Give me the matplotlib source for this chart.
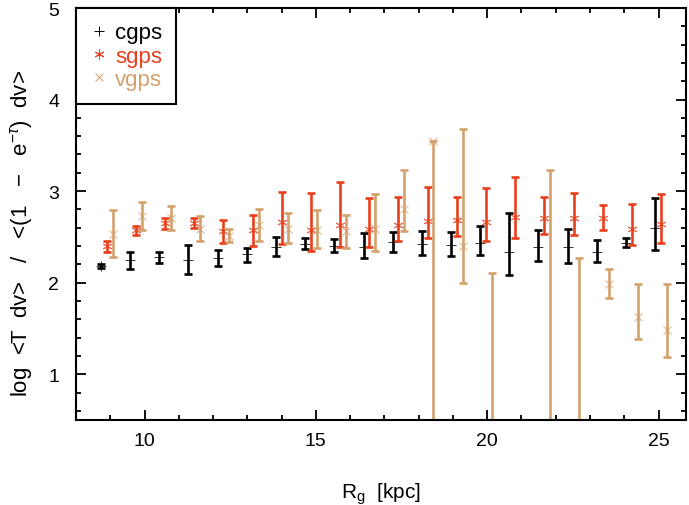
"""log <T dv>/<(1-e^-tau) dv> vs galactocentric radius for the three surveys."""

import numpy as np
import matplotlib
matplotlib.use("Agg")
import matplotlib.pyplot as plt
from matplotlib.lines import Line2D
from matplotlib.ticker import MultipleLocator

plt.rcParams["font.family"] = ["Liberation Sans", "DejaVu Sans"]
plt.rcParams["mathtext.fontset"] = "custom"
plt.rcParams["mathtext.rm"] = "Liberation Sans"
plt.rcParams["mathtext.it"] = "Liberation Sans:italic"

# bin centres (kpc)
r_bins = [8.73, 9.58, 10.43, 11.28, 12.13, 12.99, 13.84, 14.69, 15.54, 16.39,
          17.24, 18.09, 18.94, 19.79, 20.64, 21.49, 22.35, 23.20, 24.05, 24.90]

# cgps: value, lower, upper
cgps_val = [2.18, 2.25, 2.28, 2.25, 2.27, 2.31, 2.39, 2.42, 2.40, 2.39,
            2.44, 2.42, 2.415, 2.43, 2.34, 2.39, 2.39, 2.34, 2.43, 2.60]
cgps_lo = [2.16, 2.15, 2.22, 2.10, 2.18, 2.23, 2.29, 2.37, 2.33, 2.27,
           2.34, 2.30, 2.29, 2.30, 2.08, 2.24, 2.22, 2.23, 2.39, 2.36]
cgps_hi = [2.20, 2.34, 2.33, 2.41, 2.36, 2.38, 2.50, 2.49, 2.48, 2.54,
           2.55, 2.56, 2.55, 2.62, 2.76, 2.58, 2.59, 2.47, 2.49, 2.93]

# sgps
sgps_val = [2.40, 2.57, 2.65, 2.65, 2.56, 2.57, 2.66, 2.57, 2.63, 2.59,
            2.63, 2.67, 2.68, 2.66, 2.72, 2.71, 2.71, 2.71, 2.59, 2.64]
sgps_lo = [2.34, 2.52, 2.59, 2.60, 2.43, 2.40, 2.42, 2.35, 2.39, 2.39,
           2.45, 2.49, 2.51, 2.45, 2.49, 2.53, 2.52, 2.58, 2.41, 2.43]
sgps_hi = [2.46, 2.62, 2.71, 2.71, 2.68, 2.74, 2.99, 2.98, 3.10, 2.92,
           2.94, 3.04, 2.94, 3.03, 3.15, 2.94, 2.98, 2.85, 2.86, 2.97]

# vgps (nan = no point in that bin)
vgps_val = [2.53, 2.73, 2.71, 2.59, 2.51, 2.63, 2.59, 2.57, 2.56, 2.59,
            2.81, 3.55, 2.40, 0.30, np.nan, 0.30, 0.30, 1.99, 1.62, 1.48]
vgps_lo = [2.28, 2.58, 2.57, 2.45, 2.44, 2.45, 2.43, 2.38, 2.38, 2.35,
           2.56, -0.50, 2.00, -0.50, np.nan, -0.50, -0.50, 1.83, 1.39, 1.19]
vgps_hi = [2.79, 2.88, 2.84, 2.73, 2.59, 2.81, 2.76, 2.79, 2.74, 2.97,
           3.23, 3.55, 3.68, 2.11, np.nan, 3.23, 2.27, 2.15, 1.99, 1.99]

RED = "#e8401c"
TAN = "#d4a06c"


def main() -> None:
    fig = plt.figure(figsize=(6.89, 5.06), dpi=100)
    ax = fig.add_axes([0.1103, 0.168, 0.8853, 0.8142])

    r = np.array(r_bins)
    series = [
        ("cgps", cgps_val, cgps_lo, cgps_hi, "black", "+", 7.5, 0.0),
        ("sgps", sgps_val, sgps_lo, sgps_hi, RED, (6, 2, 0), 7, 0.17),
        ("vgps", vgps_val, vgps_lo, vgps_hi, TAN, "x", 5.5, 0.34),
    ]
    handles = []
    for name, val, lo, hi, col, mk, ms, dx in series:
        val = np.array(val)
        yerr = [val - np.array(lo), np.array(hi) - val]
        ax.errorbar(r + dx, val, yerr=yerr, fmt="none", ecolor=col,
                    elinewidth=1.9, capsize=3.2, capthick=1.9)
        ax.plot(r + dx, val, linestyle="none", marker=mk, color=col,
                markersize=ms, markeredgewidth=0.7, alpha=0.8)
        handles.append(Line2D([], [], linestyle="none", marker=mk, color=col,
                              markersize=ms, markeredgewidth=0.7, label=name))

    ax.set_xlim(8, 25.8)
    ax.set_ylim(0.5, 5)
    ax.xaxis.set_major_locator(MultipleLocator(5))
    ax.xaxis.set_minor_locator(MultipleLocator(1))
    ax.yaxis.set_major_locator(MultipleLocator(1))
    ax.yaxis.set_minor_locator(MultipleLocator(0.2))
    ax.tick_params(which="both", direction="in", top=True, right=True,
                   labelsize=14, width=1.3)
    ax.tick_params(axis="x", pad=9)
    ax.tick_params(axis="y", pad=12)
    ax.tick_params(which="major", length=7)
    ax.tick_params(which="minor", length=3.5)
    for sp in ax.spines.values():
        sp.set_linewidth(1.5)

    ax.set_xlabel(r"R$_\mathrm{g}$  [kpc]", fontsize=15, labelpad=22)
    ax.set_ylabel(r"log  <T  dv>   /   <(1   $-$   e$^{-\tau}$)  dv>",
                  fontsize=16, labelpad=8)
    ax.yaxis.set_label_coords(-0.068, 0.455)

    leg = ax.legend(handles=handles, loc="upper left", borderaxespad=0,
                    fancybox=False, framealpha=1, edgecolor="black",
                    fontsize=16, handlelength=0.8, handletextpad=0.3,
                    labelspacing=0.1, borderpad=0.65,
                    labelcolor=["black", RED, TAN])
    leg.get_frame().set_linewidth(1.5)

    fig.savefig("out.png", dpi=100)


if __name__ == "__main__":
    main()
